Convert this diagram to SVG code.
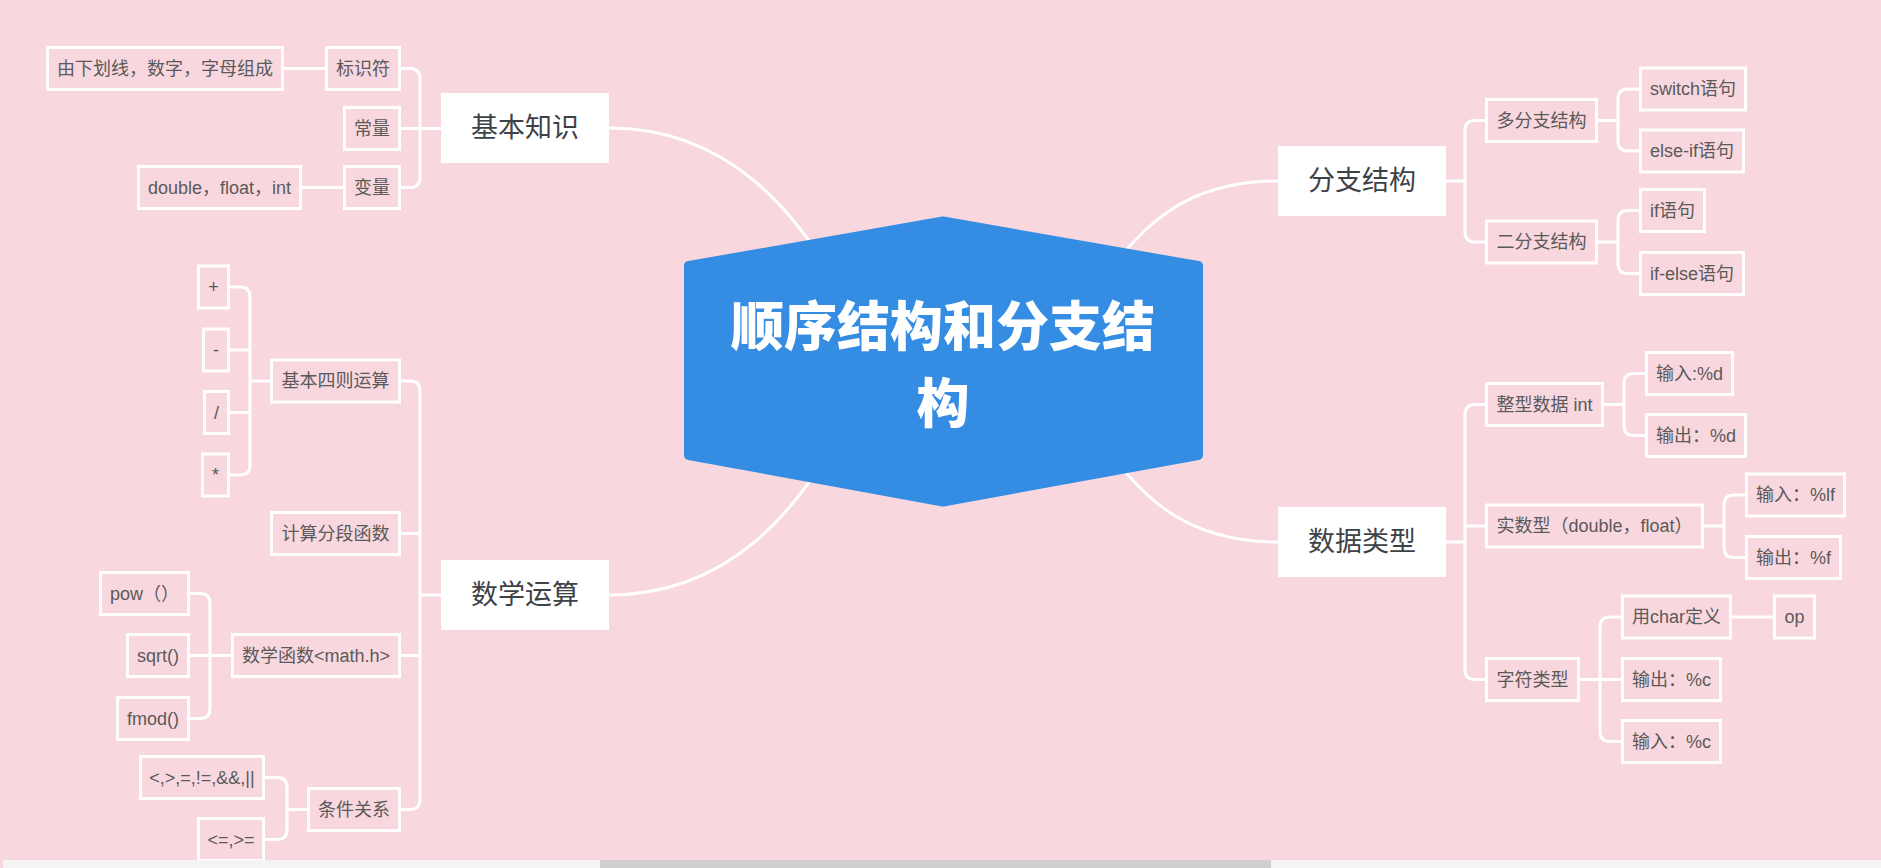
<svg xmlns="http://www.w3.org/2000/svg" width="1881" height="868" viewBox="0 0 1881 868">
<style>
.bg{fill:#f9d7de}
.box{fill:none;stroke:#ffffff;stroke-width:3}
.main{fill:#ffffff}
.t{font-family:"Liberation Sans","Noto Sans CJK SC",sans-serif;font-size:18px;fill:#5a5a5a;text-anchor:middle;dominant-baseline:central}
.m{font-family:"Liberation Sans","Noto Sans CJK SC",sans-serif;font-size:27px;fill:#3d4247;text-anchor:middle;dominant-baseline:central}
.c{font-family:"Noto Sans CJK SC",sans-serif;font-size:53px;font-weight:900;fill:#ffffff;text-anchor:middle;dominant-baseline:central}
.ln{fill:none;stroke:#ffffff;stroke-width:3}
</style>
<rect class="bg" x="0" y="0" width="1881" height="868"/>
<g id="connectors">
<path class="ln" d="M609,128 C720,128 800,200 860,330"/>
<path class="ln" d="M609,595 C720,595 800,523 860,393"/>
<path class="ln" d="M1278,181 C1190,181 1140,220 1090,300"/>
<path class="ln" d="M1278,542 C1190,542 1140,503 1090,423"/>
<path class="ln" d="M401,68.5 H410 Q420,68.5 420,78.5 V177.5 Q420,187.5 410,187.5 H401 M401,128.5 H441"/>
<path class="ln" d="M284,68.5 H325 M302,187.5 H343"/>
<path class="ln" d="M401,381 H410 Q420,381 420,391 V799.5 Q420,809.5 410,809.5 H401 M401,533.5 H420 M401,655.5 H420 M420,595 H441"/>
<path class="ln" d="M230,287 H240 Q250,287 250,297 V465 Q250,475 240,475 H230 M230,350 H250 M230,412.5 H250 M250,381 H270"/>
<path class="ln" d="M190,593.5 H200 Q210,593.5 210,603.5 V708.5 Q210,718.5 200,718.5 H190 M190,655.5 H231"/>
<path class="ln" d="M265,777.5 H277 Q287,777.5 287,787.5 V829.5 Q287,839.5 277,839.5 H265 M287,809.5 H307"/>
<path class="ln" d="M1485,120.5 H1475 Q1465,120.5 1465,130.5 V232 Q1465,242 1475,242 H1485 M1446,181 H1465"/>
<path class="ln" d="M1639,89 H1628 Q1618,89 1618,99 V141 Q1618,151 1628,151 H1639 M1598,120.5 H1618"/>
<path class="ln" d="M1639,210.5 H1628 Q1618,210.5 1618,220.5 V263.5 Q1618,273.5 1628,273.5 H1639 M1598,242 H1618"/>
<path class="ln" d="M1485,404.5 H1475 Q1465,404.5 1465,414.5 V669.5 Q1465,679.5 1475,679.5 H1485 M1465,526 H1485 M1446,542 H1465"/>
<path class="ln" d="M1645,373.5 H1634 Q1624,373.5 1624,383.5 V425.5 Q1624,435.5 1634,435.5 H1645 M1604,404.5 H1624"/>
<path class="ln" d="M1745,495 H1734 Q1724,495 1724,505 V547.5 Q1724,557.5 1734,557.5 H1745 M1704,526 H1724"/>
<path class="ln" d="M1621,617 H1610 Q1600,617 1600,627 V731.5 Q1600,741.5 1610,741.5 H1621 M1580,679.5 H1621"/>
<path class="ln" d="M1732,617 H1773"/>
</g>
<g id="root">
<polygon points="689,266 943,221.5 1198,266 1198,455 943,501.5 689,455" fill="#348de2" stroke="#348de2" stroke-width="10" stroke-linejoin="round"/>
<text class="c" x="943" y="323"><tspan x="943" y="323">顺序结构和分支结</tspan><tspan x="943" y="400">构</tspan></text>
</g>
<g id="n-jibenzhishi"><rect class="main" x="441" y="93" width="168" height="70"/><text class="m" x="525" y="128">基本知识</text></g>
<g id="n-biaoshifu"><rect class="box" x="326.5" y="47.5" width="73" height="42"/><text class="t" x="363" y="68.5">标识符</text></g>
<g id="n-youxiahua"><rect class="box" x="47.5" y="47.5" width="235" height="42"/><text class="t" x="165" y="68.5">由下划线，数字，字母组成</text></g>
<g id="n-changliang"><rect class="box" x="344.5" y="107.5" width="55" height="42"/><text class="t" x="372" y="128.5">常量</text></g>
<g id="n-bianliang"><rect class="box" x="344.5" y="166.5" width="55" height="42"/><text class="t" x="372" y="187.5">变量</text></g>
<g id="n-double"><rect class="box" x="138.5" y="166.5" width="162" height="42"/><text class="t" x="219.5" y="187.5">double，float，int</text></g>
<g id="n-shuxueyunsuan"><rect class="main" x="441" y="560" width="168" height="70"/><text class="m" x="525" y="595">数学运算</text></g>
<g id="n-sizeyunsuan"><rect class="box" x="271.5" y="360" width="128" height="42"/><text class="t" x="335.5" y="381">基本四则运算</text></g>
<g id="n-plus"><rect class="box" x="198.5" y="266" width="30" height="42"/><text class="t" x="213.5" y="287">+</text></g>
<g id="n-minus"><rect class="box" x="203.5" y="329" width="25" height="42"/><text class="t" x="216" y="350">-</text></g>
<g id="n-div"><rect class="box" x="204.5" y="391.5" width="24" height="42"/><text class="t" x="216.5" y="412.5">/</text></g>
<g id="n-mul"><rect class="box" x="202.5" y="454" width="26" height="42"/><text class="t" x="215.5" y="475">*</text></g>
<g id="n-fenduan"><rect class="box" x="271.5" y="512.5" width="128" height="42"/><text class="t" x="335.5" y="533.5">计算分段函数</text></g>
<g id="n-mathh"><rect class="box" x="232.5" y="634.5" width="167" height="42"/><text class="t" x="316" y="655.5">数学函数&lt;math.h&gt;</text></g>
<g id="n-pow"><rect class="box" x="100.5" y="572.5" width="88" height="42"/><text class="t" x="144.5" y="593.5">pow（）</text></g>
<g id="n-sqrt"><rect class="box" x="127.5" y="634.5" width="61" height="42"/><text class="t" x="158" y="655.5">sqrt()</text></g>
<g id="n-fmod"><rect class="box" x="117.5" y="697.5" width="71" height="42"/><text class="t" x="153" y="718.5">fmod()</text></g>
<g id="n-tiaojian"><rect class="box" x="308.5" y="788.5" width="91" height="42"/><text class="t" x="354" y="809.5">条件关系</text></g>
<g id="n-ops"><rect class="box" x="140.5" y="756.5" width="123" height="42"/><text class="t" x="202" y="777.5">&lt;,&gt;,=,!=,&amp;&amp;,||</text></g>
<g id="n-ops2"><rect class="box" x="198.5" y="818.5" width="65" height="42"/><text class="t" x="231" y="839.5">&lt;=,&gt;=</text></g>
<g id="n-fenzhi"><rect class="main" x="1278" y="146" width="168" height="70"/><text class="m" x="1362" y="181">分支结构</text></g>
<g id="n-duofenzhi"><rect class="box" x="1486.5" y="99.5" width="110" height="42"/><text class="t" x="1541.5" y="120.5">多分支结构</text></g>
<g id="n-erfenzhi"><rect class="box" x="1486.5" y="221" width="110" height="42"/><text class="t" x="1541.5" y="242">二分支结构</text></g>
<g id="n-switch"><rect class="box" x="1640.5" y="68" width="105" height="42"/><text class="t" x="1693" y="89">switch语句</text></g>
<g id="n-elseif"><rect class="box" x="1640.5" y="130" width="103" height="42"/><text class="t" x="1692" y="151">else-if语句</text></g>
<g id="n-if"><rect class="box" x="1640.5" y="189.5" width="64" height="42"/><text class="t" x="1672.5" y="210.5">if语句</text></g>
<g id="n-ifelse"><rect class="box" x="1640.5" y="252.5" width="103" height="42"/><text class="t" x="1692" y="273.5">if-else语句</text></g>
<g id="n-shujuleixing"><rect class="main" x="1278" y="507" width="168" height="70"/><text class="m" x="1362" y="542">数据类型</text></g>
<g id="n-int"><rect class="box" x="1486.5" y="383.5" width="116" height="42"/><text class="t" x="1544.5" y="404.5">整型数据 int</text></g>
<g id="n-ind"><rect class="box" x="1646.5" y="352.5" width="86" height="42"/><text class="t" x="1689.5" y="373.5">输入:%d</text></g>
<g id="n-outd"><rect class="box" x="1646.5" y="414.5" width="99" height="42"/><text class="t" x="1696" y="435.5">输出：%d</text></g>
<g id="n-real"><rect class="box" x="1486.5" y="505" width="216" height="42"/><text class="t" x="1594.5" y="526">实数型（double，float）</text></g>
<g id="n-inlf"><rect class="box" x="1746.5" y="474" width="98" height="42"/><text class="t" x="1795.5" y="495">输入：%lf</text></g>
<g id="n-outf"><rect class="box" x="1746.5" y="536.5" width="94" height="42"/><text class="t" x="1793.5" y="557.5">输出：%f</text></g>
<g id="n-char"><rect class="box" x="1486.5" y="658.5" width="92" height="42"/><text class="t" x="1532.5" y="679.5">字符类型</text></g>
<g id="n-chardef"><rect class="box" x="1622.5" y="596" width="108" height="42"/><text class="t" x="1676.5" y="617">用char定义</text></g>
<g id="n-op"><rect class="box" x="1774.5" y="596" width="40" height="42"/><text class="t" x="1794.5" y="617">op</text></g>
<g id="n-outc"><rect class="box" x="1622.5" y="658.5" width="98" height="42"/><text class="t" x="1671.5" y="679.5">输出：%c</text></g>
<g id="n-inc"><rect class="box" x="1622.5" y="720.5" width="98" height="42"/><text class="t" x="1671.5" y="741.5">输入：%c</text></g>
<g id="scrollbar">
<rect x="3" y="860" width="1878" height="8" fill="#f4f4f4"/>
<rect x="600" y="860" width="671" height="8" fill="#cfcfcf"/>
</g>
</svg>
